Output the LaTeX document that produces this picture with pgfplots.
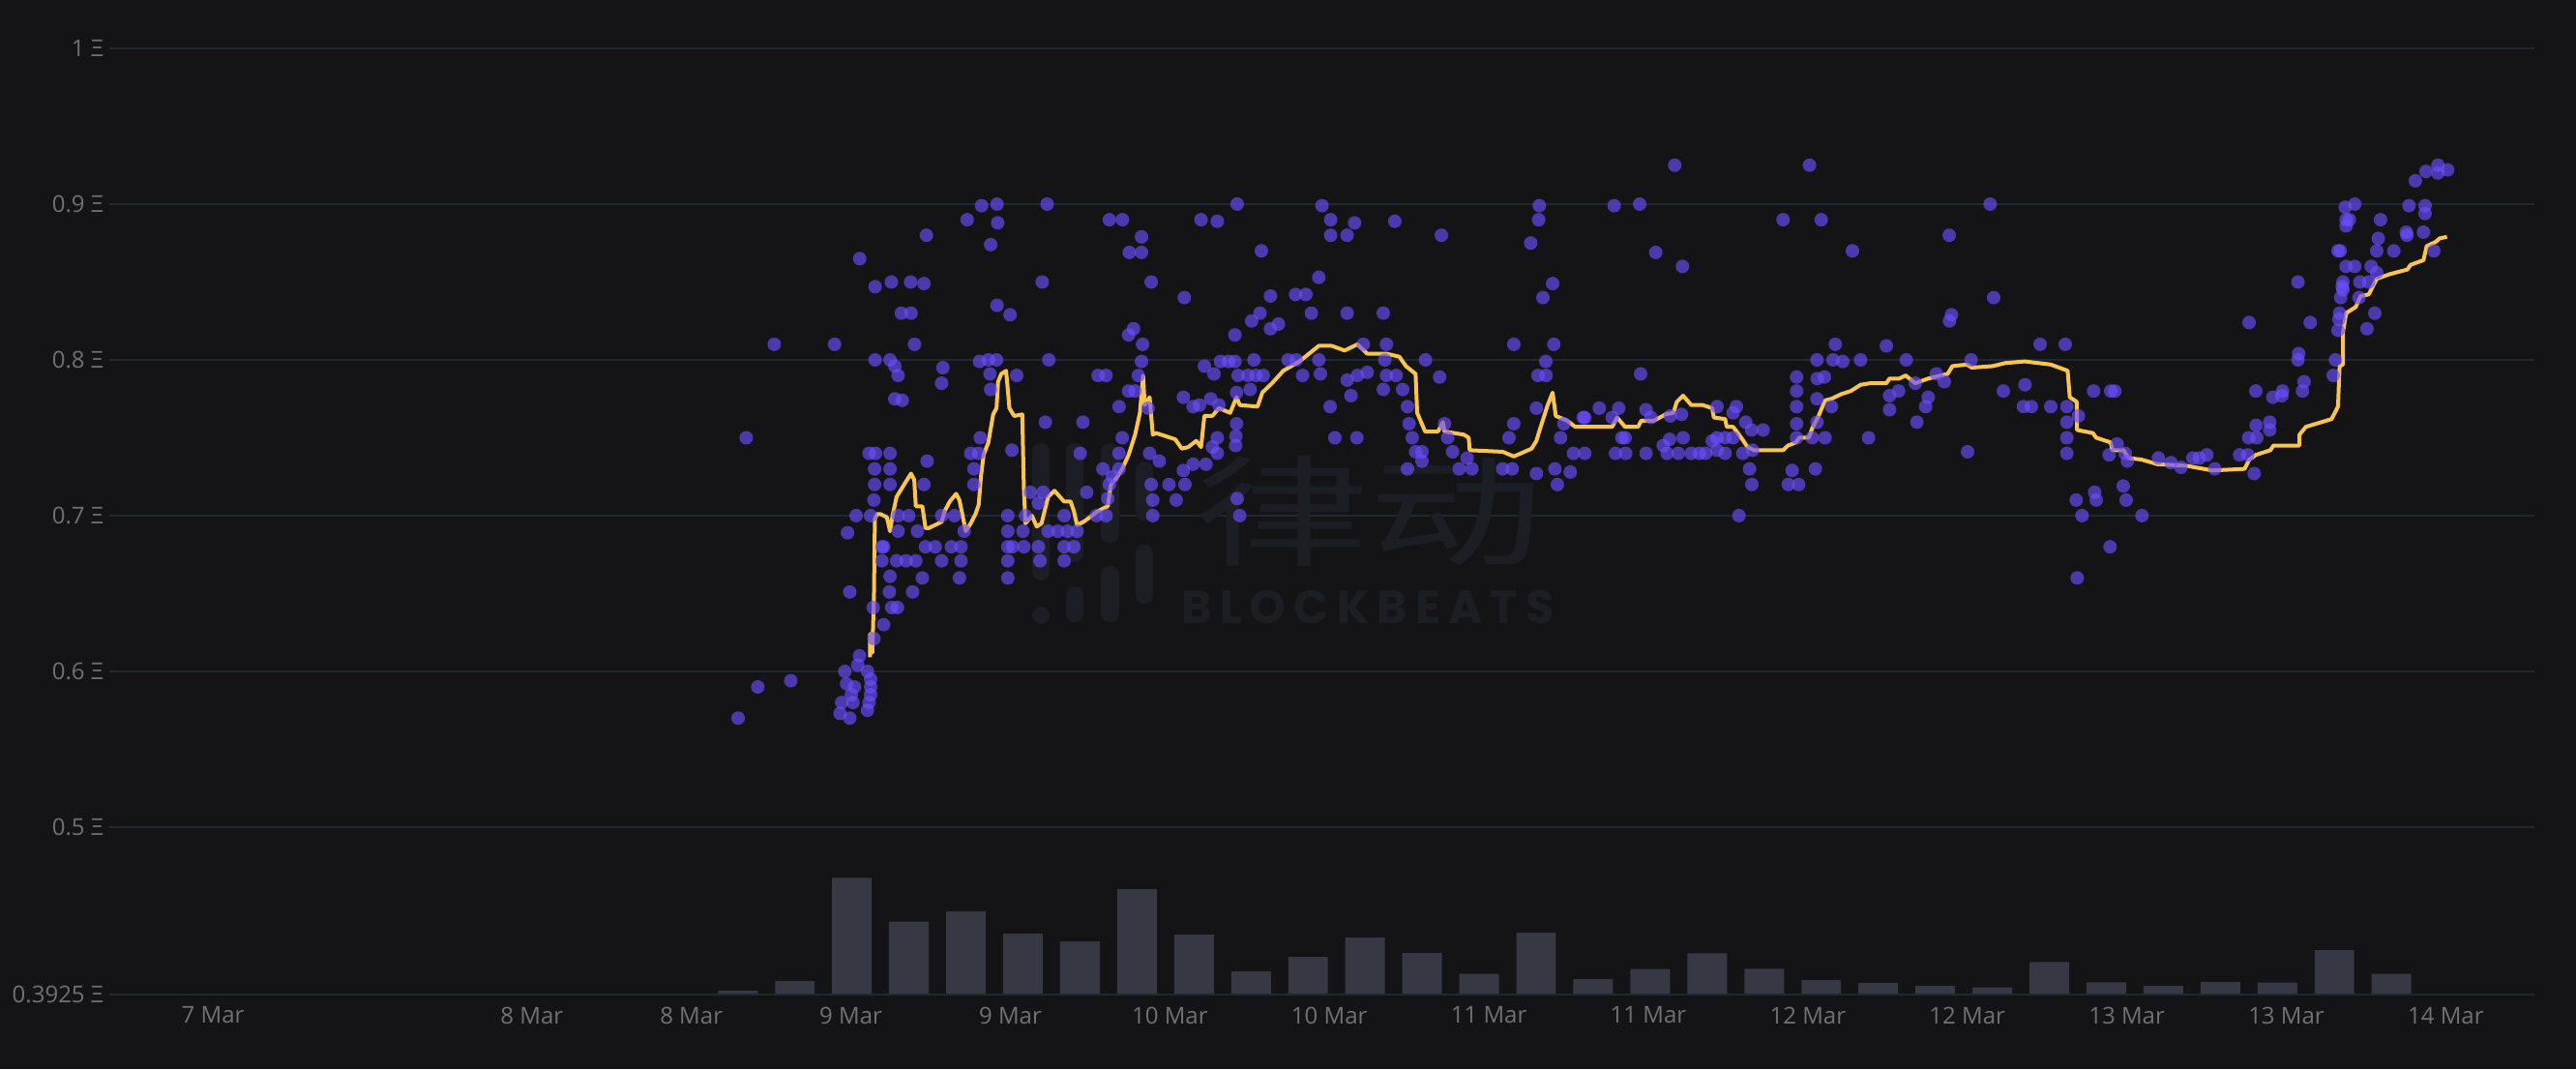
\documentclass[border=0pt]{standalone}
\usepackage{pgfplots}
\pgfplotsset{compat=1.18}
\usepackage{graphicx}
\usepackage{fontspec}
\setmainfont{Open Sans}
\newfontfamily\cjk{Noto Sans CJK SC}
\newfontfamily\wmfont{Poppins}
\definecolor{bg}{RGB}{20,20,23}
\definecolor{gridc}{RGB}{32,40,52}
\definecolor{barc}{RGB}{54,57,68}
\definecolor{ptc}{RGB}{107,78,255}
\definecolor{ycol}{RGB}{250,196,80}
\definecolor{tickc}{RGB}{112,112,118}
\definecolor{wm}{RGB}{28,30,38}
\begin{document}
\begin{tikzpicture}
\fill[bg] (-28.25pt,-19.25pt) rectangle (637.5pt,257pt);
% volume bars
\begin{axis}[
  scale only axis, width=626.75pt, height=244.5pt,
  xmin=-7.79, xmax=174.67, ymin=0, ymax=97.8,
  hide axis, ybar, bar width=2.98,
]
\addplot[fill=barc, draw=none] table {
39.50 0.4
43.79 1.4
48.08 12.07
52.37 7.53
56.66 8.6
60.95 6.3
65.24 5.5
69.53 10.9
73.82 6.2
78.11 2.4
82.40 3.9
86.69 5.9
90.98 4.3
95.27 2.13
99.56 6.4
103.85 1.6
108.14 2.63
112.43 4.27
116.72 2.67
121.01 1.5
125.30 1.2
129.59 0.9
133.88 0.73
138.17 3.37
142.46 1.27
146.75 0.9
151.04 1.3
155.33 1.23
159.62 4.6
163.91 2.13
168.20 0.1
172.49 0.1
};
\end{axis}
\begin{axis}[
  scale only axis, width=626.75pt, height=244.5pt,
  xmin=-7.79, xmax=174.67, ymin=0.3925, ymax=1,
  axis line style={draw=none}, major tick style={draw=none}, minor tick style={draw=none},
  ymajorgrids, grid style={gridc, line width=0.5pt},
  xtick={0,24,36,48,60,72,84,96,108,120,132,144,156,168},
  xticklabels={7 Mar,8 Mar,8 Mar,9 Mar,9 Mar,10 Mar,10 Mar,11 Mar,11 Mar,12 Mar,12 Mar,13 Mar,13 Mar,14 Mar},
  ytick={0.3925,0.5,0.6,0.7,0.8,0.9,1},
  yticklabels={0.3925 Ξ,0.5 Ξ,0.6 Ξ,0.7 Ξ,0.8 Ξ,0.9 Ξ,1 Ξ},
  tick label style={font=\fontsize{6}{7}\selectfont, text=tickc},
  yticklabel style={anchor=east, inner sep=0pt, xshift=-1.25pt},
  xticklabel style={anchor=north, inner sep=0pt, yshift=-3pt},
]
% watermark
\node[text=wm, inner sep=0pt] at (axis cs:87.0,0.703) {\scalebox{1.45}[1]{\cjk\fontsize{31}{31}\selectfont 律动}};
\node[text=wm, inner sep=0pt] at (axis cs:86.9,0.641) {\wmfont\bfseries\fontsize{12}{12}\selectfont B\,L\,O\,C\,K\,B\,E\,A\,T\,S};
\draw[wm, line width=4.5pt, line cap=round] (axis cs:62.3,0.741) -- (axis cs:62.3,0.664);
\fill[wm] (axis cs:62.3,0.636) circle[radius=2.25pt];
\draw[wm, line width=4.5pt, line cap=round] (axis cs:64.85,0.741) -- (axis cs:64.85,0.676);
\draw[wm, line width=4.5pt, line cap=round] (axis cs:64.85,0.649) -- (axis cs:64.85,0.637);
\draw[wm, line width=4.5pt, line cap=round] (axis cs:67.5,0.741) -- (axis cs:67.5,0.688);
\draw[wm, line width=4.5pt, line cap=round] (axis cs:67.5,0.662) -- (axis cs:67.5,0.637);
\draw[wm, line width=4.5pt, line cap=round] (axis cs:70.1,0.729) -- (axis cs:70.1,0.702);
\draw[wm, line width=4.5pt, line cap=round] (axis cs:70.1,0.676) -- (axis cs:70.1,0.649);
% sales scatter
\addplot[only marks, mark=*, mark size=1.75pt, mark options={draw opacity=0, fill=ptc, fill opacity=0.65}] table {
39.52 0.570
41.00 0.590
43.48 0.594
40.13 0.750
42.24 0.810
46.78 0.810
48.67 0.865
49.83 0.847
51.05 0.850
52.50 0.850
53.50 0.849
51.80 0.830
52.53 0.830
52.79 0.810
53.69 0.880
56.75 0.890
57.84 0.899
59.00 0.900
59.05 0.888
58.52 0.874
62.77 0.900
62.40 0.850
59.00 0.835
59.98 0.829
67.45 0.890
68.44 0.890
69.87 0.879
68.95 0.869
69.87 0.869
70.60 0.850
49.83 0.800
50.95 0.800
51.31 0.796
51.56 0.790
54.93 0.795
54.83 0.785
51.31 0.775
51.87 0.774
57.69 0.799
58.35 0.800
58.96 0.800
58.47 0.791
60.48 0.790
62.89 0.800
66.60 0.790
67.20 0.790
69.27 0.820
68.90 0.816
69.95 0.810
69.87 0.799
69.63 0.790
68.90 0.780
69.39 0.780
68.18 0.770
70.36 0.769
62.64 0.760
65.46 0.760
58.52 0.781
65.26 0.740
68.18 0.740
68.42 0.750
70.48 0.740
71.21 0.735
70.60 0.720
70.72 0.710
70.72 0.700
49.37 0.740
49.86 0.740
49.79 0.730
49.79 0.720
49.74 0.710
49.49 0.700
48.40 0.700
47.75 0.689
50.34 0.680
50.34 0.671
50.95 0.661
47.92 0.651
50.90 0.651
52.65 0.651
49.69 0.641
51.07 0.641
51.51 0.641
50.47 0.630
49.74 0.621
48.65 0.610
48.52 0.604
49.25 0.600
49.49 0.595
49.49 0.590
49.49 0.585
49.37 0.580
49.25 0.575
47.55 0.600
47.68 0.592
48.04 0.585
47.31 0.580
47.19 0.573
47.92 0.570
48.28 0.590
48.16 0.580
50.95 0.740
50.95 0.730
50.95 0.720
53.74 0.735
53.50 0.720
51.56 0.700
52.36 0.700
51.56 0.690
53.01 0.690
50.47 0.680
51.44 0.671
52.16 0.671
52.89 0.671
53.62 0.680
54.35 0.680
54.83 0.671
55.56 0.680
56.29 0.680
56.29 0.671
53.38 0.660
56.17 0.660
54.83 0.700
55.80 0.700
56.53 0.690
57.02 0.740
57.62 0.740
57.26 0.730
57.26 0.720
57.74 0.750
60.12 0.742
59.81 0.700
59.81 0.690
59.81 0.680
60.17 0.680
59.81 0.671
59.81 0.660
61.02 0.680
60.95 0.690
61.14 0.700
61.50 0.715
62.11 0.708
62.47 0.715
62.11 0.680
62.84 0.690
63.57 0.690
64.29 0.690
65.02 0.690
62.23 0.671
64.05 0.671
64.05 0.680
64.78 0.680
64.05 0.700
65.75 0.715
66.48 0.700
67.20 0.700
67.33 0.711
67.45 0.720
67.69 0.725
68.18 0.730
66.96 0.730
77.07 0.900
74.35 0.890
75.57 0.889
78.89 0.870
83.45 0.899
84.10 0.890
84.10 0.880
85.34 0.880
85.90 0.888
88.93 0.889
92.43 0.880
99.80 0.899
99.75 0.890
99.15 0.875
105.43 0.899
73.09 0.840
79.57 0.841
81.46 0.842
82.24 0.842
83.21 0.853
78.79 0.830
78.16 0.825
79.57 0.820
80.17 0.823
76.90 0.816
82.65 0.830
85.34 0.830
88.06 0.830
100.80 0.849
100.07 0.840
97.88 0.810
100.89 0.810
86.56 0.810
88.30 0.810
74.60 0.796
75.32 0.791
75.81 0.799
76.41 0.799
76.90 0.799
78.33 0.800
80.90 0.800
81.51 0.800
83.21 0.800
83.33 0.791
81.99 0.790
77.14 0.790
77.87 0.790
78.48 0.790
79.03 0.790
85.34 0.787
86.12 0.790
86.85 0.792
88.30 0.790
89.03 0.790
88.18 0.800
91.24 0.800
92.30 0.789
100.29 0.799
99.70 0.790
100.31 0.790
78.04 0.781
85.63 0.777
88.06 0.781
89.52 0.781
77.02 0.779
73.02 0.776
73.75 0.770
74.23 0.771
75.08 0.775
75.69 0.771
84.06 0.770
89.88 0.770
99.58 0.769
104.31 0.769
105.77 0.769
103.10 0.763
103.22 0.763
105.28 0.763
101.65 0.759
97.88 0.759
77.02 0.759
76.97 0.751
76.95 0.745
75.57 0.750
75.20 0.744
75.57 0.740
90.00 0.759
90.24 0.750
90.49 0.741
90.97 0.741
90.97 0.735
89.88 0.730
84.42 0.750
86.07 0.750
92.67 0.759
92.91 0.750
93.28 0.741
94.37 0.737
93.76 0.730
94.73 0.730
97.52 0.750
97.04 0.730
97.76 0.730
99.58 0.727
100.97 0.730
102.13 0.728
101.16 0.720
101.40 0.750
102.37 0.740
103.22 0.740
105.53 0.740
106.01 0.750
73.75 0.733
73.02 0.729
74.72 0.733
73.14 0.720
71.94 0.720
72.48 0.710
77.07 0.711
77.26 0.700
109.99 0.925
120.13 0.925
107.35 0.900
118.14 0.890
121.01 0.890
133.72 0.900
130.64 0.880
108.56 0.869
110.57 0.860
123.36 0.870
133.98 0.840
130.81 0.829
130.66 0.825
122.07 0.810
125.91 0.809
137.48 0.810
139.37 0.810
120.69 0.800
121.90 0.800
122.63 0.799
123.97 0.800
127.41 0.800
132.29 0.800
107.42 0.791
119.16 0.789
120.71 0.788
121.25 0.789
119.16 0.780
134.71 0.780
136.34 0.784
126.15 0.777
126.83 0.780
129.06 0.776
130.27 0.786
129.67 0.791
128.09 0.785
107.83 0.768
113.17 0.770
114.63 0.770
114.38 0.766
119.16 0.770
120.69 0.775
121.78 0.770
126.15 0.768
128.87 0.770
136.22 0.770
136.82 0.770
138.28 0.770
139.49 0.770
108.20 0.763
109.65 0.764
110.50 0.765
115.33 0.760
115.77 0.755
116.64 0.755
119.16 0.759
120.69 0.760
128.21 0.760
139.49 0.760
106.26 0.750
110.62 0.750
109.60 0.749
109.12 0.745
112.81 0.748
113.17 0.750
113.78 0.750
114.38 0.750
119.16 0.750
120.33 0.750
121.30 0.750
124.57 0.750
139.49 0.750
106.30 0.740
107.83 0.740
109.41 0.740
110.26 0.740
111.23 0.740
111.84 0.740
112.32 0.740
113.17 0.742
113.78 0.740
115.11 0.740
115.84 0.742
132.02 0.741
139.49 0.740
115.62 0.730
118.82 0.729
120.57 0.730
115.79 0.720
118.53 0.720
119.31 0.720
114.82 0.700
140.36 0.764
140.19 0.710
140.63 0.700
141.50 0.780
142.79 0.780
143.10 0.780
141.58 0.715
141.70 0.710
142.74 0.680
140.27 0.660
143.27 0.746
142.67 0.739
143.88 0.740
144.05 0.735
143.73 0.719
143.95 0.710
145.14 0.700
146.38 0.737
147.32 0.734
148.08 0.731
148.97 0.737
149.46 0.737
150.02 0.739
150.62 0.730
152.49 0.739
153.10 0.739
153.58 0.727
153.20 0.824
153.71 0.780
153.17 0.750
153.78 0.750
153.73 0.758
154.75 0.760
154.75 0.755
154.99 0.776
155.72 0.780
155.67 0.777
156.88 0.850
157.80 0.824
156.93 0.804
156.88 0.800
157.34 0.786
157.22 0.780
159.53 0.790
159.70 0.800
160.06 0.870
159.89 0.870
160.43 0.898
161.15 0.900
160.50 0.890
160.74 0.890
160.50 0.886
160.50 0.860
161.15 0.860
160.26 0.850
160.21 0.847
160.26 0.845
160.09 0.840
160.01 0.830
159.96 0.826
159.89 0.819
161.54 0.850
162.20 0.850
162.39 0.860
162.80 0.856
162.92 0.878
162.80 0.870
163.09 0.890
164.09 0.870
162.66 0.830
162.07 0.820
161.47 0.840
165.03 0.882
165.08 0.880
165.23 0.899
166.44 0.899
166.44 0.894
166.32 0.882
165.71 0.915
166.51 0.921
167.41 0.925
167.41 0.920
168.14 0.922
167.10 0.870
};
% floor price line
\addplot[ycol, line width=1pt, line join=round, mark=none] table {
49.45 0.609
49.45 0.624
49.62 0.612
49.74 0.649
49.81 0.698
49.98 0.701
50.22 0.701
50.71 0.699
50.95 0.690
51.14 0.700
51.44 0.712
51.80 0.717
52.16 0.722
52.53 0.727
52.77 0.723
52.89 0.706
53.38 0.706
53.62 0.692
53.86 0.692
54.35 0.694
54.83 0.696
55.07 0.703
55.44 0.709
55.92 0.714
56.17 0.710
56.41 0.700
56.65 0.690
57.02 0.695
57.38 0.701
57.62 0.707
57.79 0.725
57.99 0.739
58.35 0.747
58.59 0.759
58.71 0.765
58.96 0.769
59.08 0.786
59.32 0.791
59.68 0.793
59.81 0.781
59.93 0.769
60.29 0.764
60.90 0.765
61.02 0.717
61.14 0.695
61.62 0.700
61.99 0.693
62.35 0.695
62.84 0.712
63.32 0.716
64.05 0.709
64.54 0.709
64.78 0.703
65.02 0.694
65.51 0.696
65.99 0.699
66.60 0.703
67.33 0.706
67.57 0.720
68.05 0.725
68.42 0.730
68.90 0.739
69.39 0.752
69.75 0.766
69.99 0.790
70.11 0.771
70.48 0.776
70.72 0.752
70.96 0.753
71.33 0.752
72.41 0.749
72.90 0.743
73.38 0.744
73.99 0.748
74.35 0.744
74.60 0.764
75.20 0.764
75.69 0.769
76.54 0.766
77.02 0.776
77.26 0.771
78.60 0.770
78.96 0.779
79.69 0.785
80.54 0.793
81.75 0.799
83.21 0.809
84.18 0.809
85.15 0.806
86.12 0.810
86.85 0.804
88.30 0.804
89.27 0.802
89.76 0.796
90.49 0.791
90.61 0.766
91.21 0.754
92.18 0.754
92.55 0.760
92.67 0.754
94.12 0.752
94.49 0.750
94.56 0.742
97.04 0.741
97.88 0.738
99.22 0.743
99.58 0.748
99.83 0.755
100.43 0.771
100.80 0.779
101.04 0.764
101.89 0.761
102.50 0.757
105.28 0.757
105.65 0.763
106.25 0.757
107.23 0.757
107.47 0.761
108.44 0.761
109.29 0.765
109.89 0.766
110.14 0.773
110.62 0.777
111.23 0.771
112.08 0.771
112.81 0.769
112.93 0.763
113.78 0.762
113.90 0.757
114.38 0.757
114.99 0.750
115.47 0.744
115.96 0.742
118.14 0.742
118.51 0.745
119.11 0.747
119.36 0.750
120.08 0.750
120.33 0.756
120.81 0.764
121.30 0.774
121.78 0.775
122.51 0.778
123.24 0.780
123.97 0.784
124.69 0.785
125.91 0.785
126.15 0.788
126.88 0.788
127.36 0.790
128.09 0.785
129.06 0.788
130.52 0.791
130.88 0.796
131.97 0.797
132.34 0.795
133.91 0.796
134.88 0.798
136.34 0.799
138.28 0.797
139.55 0.793
139.71 0.776
140.24 0.773
140.25 0.755
141.45 0.753
141.70 0.750
142.79 0.747
142.91 0.742
143.76 0.742
144.12 0.737
145.09 0.736
146.31 0.733
148.49 0.732
150.43 0.729
152.86 0.730
153.22 0.736
153.71 0.739
154.80 0.742
155.04 0.745
156.98 0.745
157.00 0.752
157.47 0.757
159.41 0.762
159.65 0.766
159.89 0.770
160.01 0.796
160.26 0.797
160.27 0.818
160.50 0.830
161.23 0.834
161.59 0.841
162.20 0.842
162.80 0.852
163.77 0.855
165.11 0.858
165.35 0.861
166.32 0.864
166.56 0.873
167.29 0.876
167.53 0.878
168.09 0.879
};
\end{axis}
\end{tikzpicture}
\end{document}
